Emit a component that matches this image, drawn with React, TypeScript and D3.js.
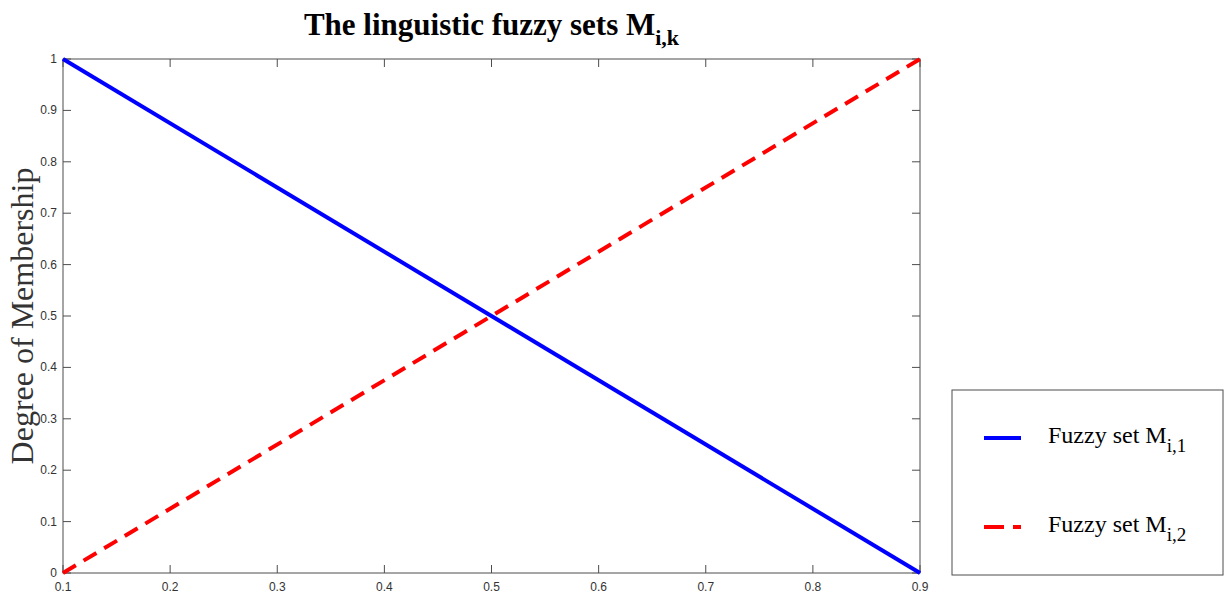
import React from "react";
import * as d3 from "d3";

const xValues = [0.1, 0.9];
const set1 = [1, 0];
const set2 = [0, 1];
const xTicks = [0.1, 0.2, 0.3, 0.4, 0.5, 0.6, 0.7, 0.8, 0.9];
const yTicks = [0, 0.1, 0.2, 0.3, 0.4, 0.5, 0.6, 0.7, 0.8, 0.9, 1];
const seriesNames = ["1", "2"];

const W = 1226;
const H = 593;
const m = { left: 63, right: 920, top: 59, bottom: 573 };

export default function App() {
  const x = d3.scaleLinear().domain([0.1, 0.9]).range([m.left, m.right]);
  const y = d3.scaleLinear().domain([0, 1]).range([m.bottom, m.top]);

  const line = d3
    .line<number>()
    .x((_, i) => x(xValues[i]))
    .y((d) => y(d));

  const axisColor = "#4d4d4d";
  const tickLen = 8;
  const tickFont = "'Liberation Sans', Arial, sans-serif";
  const serif = "'Liberation Serif', 'Times New Roman', serif";

  return (
    <svg width={W} height={H} style={{ position: "absolute", left: 0, top: 0 }}>
      <rect x={0} y={0} width={W} height={H} fill="#fff" />
      {/* box */}
      <rect
        x={m.left}
        y={m.top}
        width={m.right - m.left}
        height={m.bottom - m.top}
        fill="none"
        stroke={axisColor}
        strokeWidth={1}
      />
      {xTicks.map((t) => (
        <g key={"x" + t}>
          <line x1={x(t)} x2={x(t)} y1={m.bottom} y2={m.bottom - tickLen} stroke={axisColor} />
          <line x1={x(t)} x2={x(t)} y1={m.top} y2={m.top + tickLen} stroke={axisColor} />
          <text
            x={x(t)}
            y={m.bottom + 18}
            textAnchor="middle"
            fontFamily={tickFont}
            fontSize={12}
            fill="#333"
          >
            {t}
          </text>
        </g>
      ))}
      {yTicks.map((t) => (
        <g key={"y" + t}>
          <line x1={m.left} x2={m.left + tickLen} y1={y(t)} y2={y(t)} stroke={axisColor} />
          <line x1={m.right} x2={m.right - tickLen} y1={y(t)} y2={y(t)} stroke={axisColor} />
          <text
            x={m.left - 6}
            y={y(t) + 4}
            textAnchor="end"
            fontFamily={tickFont}
            fontSize={12}
            fill="#333"
          >
            {t}
          </text>
        </g>
      ))}
      <path d={line(set1) || ""} fill="none" stroke="#0000ff" strokeWidth={4} />
      <path
        d={line(set2) || ""}
        fill="none"
        stroke="#ff0000"
        strokeWidth={4}
        strokeDasharray="15,9"
      />
      {/* title */}
      <text
        x={(m.left + m.right) / 2}
        y={35}
        textAnchor="middle"
        fontFamily={serif}
        fontWeight="bold"
        fontSize={31}
        fill="#000"
      >
        The linguistic fuzzy sets M
        <tspan fontSize={22} dy={10}>
          i,k
        </tspan>
      </text>
      {/* y label */}
      <text
        transform={`translate(33,${(m.top + m.bottom) / 2}) rotate(-90)`}
        textAnchor="middle"
        fontFamily={serif}
        fontSize={32}
        fill="#333"
      >
        Degree of Membership
      </text>
      {/* legend */}
      <rect x={952} y={390} width={271} height={185} fill="#fff" stroke={axisColor} strokeWidth={1} />
      {seriesNames.map((s, i) => {
        const ly = 438 + i * 89;
        return (
          <g key={s}>
            <line
              x1={984}
              x2={1021}
              y1={ly}
              y2={ly}
              stroke={i === 0 ? "#0000ff" : "#ff0000"}
              strokeWidth={4}
              strokeDasharray={i === 0 ? undefined : "20,9"}
            />
            <text x={1048} y={ly + 5} fontFamily={serif} fontSize={24} fill="#000">
              Fuzzy set M
              <tspan fontSize={19} dy={9}>
                i,{s}
              </tspan>
            </text>
          </g>
        );
      })}
    </svg>
  );
}
